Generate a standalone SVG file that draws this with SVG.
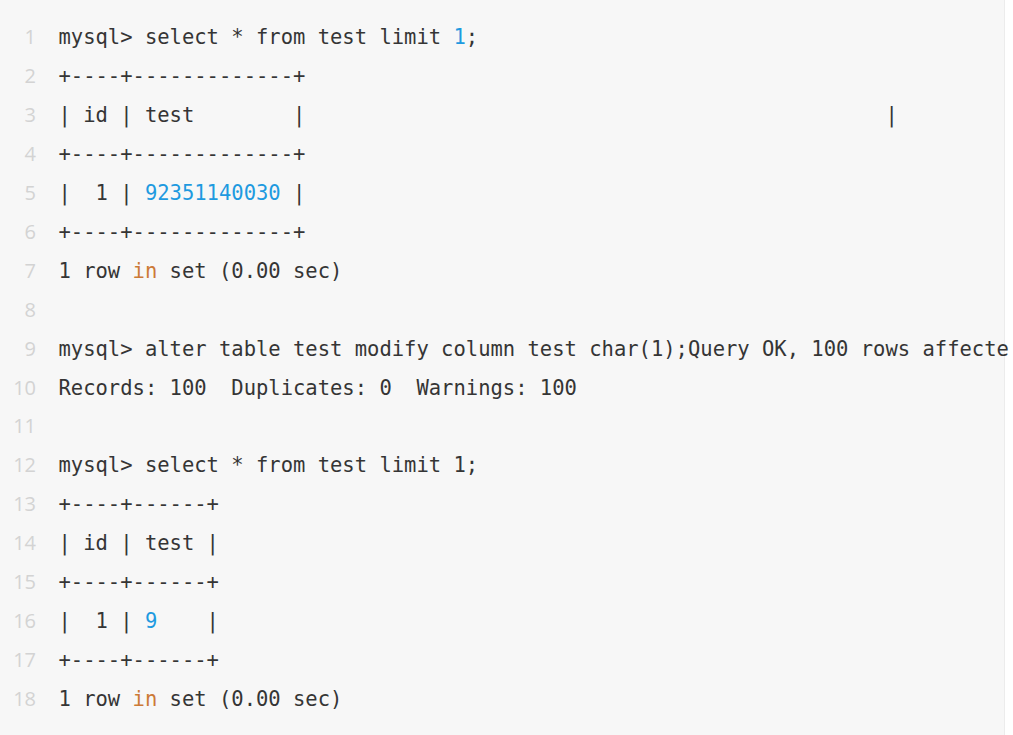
<svg xmlns="http://www.w3.org/2000/svg" width="1013" height="735" viewBox="0 0 1013 735" xml:space="preserve">
<style>
.ln{font-family:"Open Sans","DejaVu Sans",sans-serif;font-size:20px;fill:#d3d3d3;text-anchor:end}
.code{font-family:"DejaVu Sans Mono","Liberation Mono",monospace;font-size:20.5px;fill:#353535;white-space:pre}
.num{fill:#1e9ae0}
.kw{fill:#cc7a36}
</style>
<rect x="0" y="0" width="1013" height="735" fill="#ffffff"/>
<rect x="0" y="0" width="1004" height="735" fill="#f7f7f7"/>
<line x1="1004.5" y1="0" x2="1004.5" y2="735" stroke="#ececec" stroke-width="1"/>
<g id="gutter">
<text class="ln" x="36" y="44">1</text>
<text class="ln" x="36" y="82.9">2</text>
<text class="ln" x="36" y="121.9">3</text>
<text class="ln" x="36" y="160.8">4</text>
<text class="ln" x="36" y="199.8">5</text>
<text class="ln" x="36" y="238.7">6</text>
<text class="ln" x="36" y="277.6">7</text>
<text class="ln" x="36" y="316.6">8</text>
<text class="ln" x="36" y="355.5">9</text>
<text class="ln" x="36" y="394.5">10</text>
<text class="ln" x="36" y="433.4">11</text>
<text class="ln" x="36" y="472.3">12</text>
<text class="ln" x="36" y="511.3">13</text>
<text class="ln" x="36" y="550.2">14</text>
<text class="ln" x="36" y="589.2">15</text>
<text class="ln" x="36" y="628.1">16</text>
<text class="ln" x="36" y="667">17</text>
<text class="ln" x="36" y="706">18</text>
</g>
<g id="code">
<text id="line1" class="code" x="58.5" y="44">mysql&gt; select * from test limit <tspan class="num">1</tspan>;</text>
<text id="line2" class="code" x="58.5" y="82.9">+----+-------------+</text>
<text id="line3" class="code" x="58.5" y="121.9">| id | test        |                                               |</text>
<text id="line4" class="code" x="58.5" y="160.8">+----+-------------+</text>
<text id="line5" class="code" x="58.5" y="199.8">|  1 | <tspan class="num">92351140030</tspan> |</text>
<text id="line6" class="code" x="58.5" y="238.7">+----+-------------+</text>
<text id="line7" class="code" x="58.5" y="277.6">1 row <tspan class="kw">in</tspan> set (0.00 sec)</text>
<text id="line9" class="code" x="58.5" y="355.5">mysql&gt; alter table test modify column test char(1);Query OK, 100 rows affecte</text>
<text id="line10" class="code" x="58.5" y="394.5">Records: 100  Duplicates: 0  Warnings: 100</text>
<text id="line12" class="code" x="58.5" y="472.3">mysql&gt; select * from test limit 1;</text>
<text id="line13" class="code" x="58.5" y="511.3">+----+------+</text>
<text id="line14" class="code" x="58.5" y="550.2">| id | test |</text>
<text id="line15" class="code" x="58.5" y="589.2">+----+------+</text>
<text id="line16" class="code" x="58.5" y="628.1">|  1 | <tspan class="num">9</tspan>    |</text>
<text id="line17" class="code" x="58.5" y="667">+----+------+</text>
<text id="line18" class="code" x="58.5" y="706">1 row <tspan class="kw">in</tspan> set (0.00 sec)</text>
</g>
</svg>
